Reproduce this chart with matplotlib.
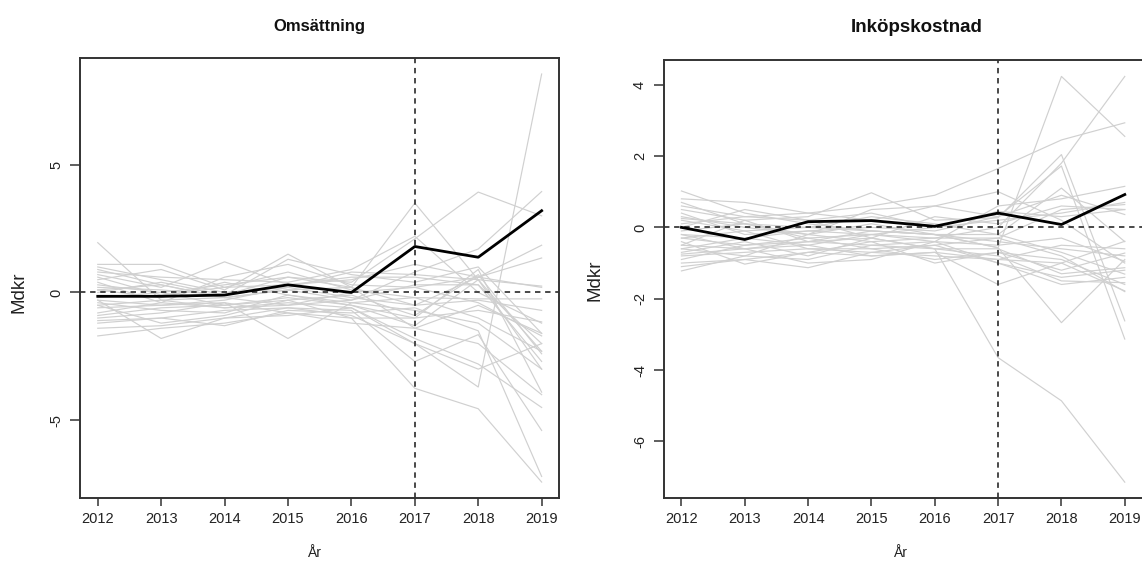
import matplotlib
matplotlib.use("Agg")
import matplotlib.pyplot as plt
import numpy as np

plt.rcParams['font.family'] = ['Liberation Sans', 'DejaVu Sans']

years = [2012, 2013, 2014, 2015, 2016, 2017, 2018, 2019]
treatment_year = 2017

# --- Omsättning (left panel) ---
oms_treated = [-0.15, -0.15, -0.1, 0.3, 0.0, 1.8, 1.38, 3.2]
oms_placebos = [
    [0.9, 0.3, -0.2, 0.1, 0.2, 3.5, 0.5, -2.3],
    [0.2, 0.1, -0.1, 0.6, 0.4, 2.1, 3.93, 3.0],
    [-0.5, -0.3, -0.6, -0.4, -0.6, -2.0, -3.7, 8.55],
    [-0.6, -0.5, -0.4, -0.8, -1.0, -3.75, -4.55, -7.42],
    [1.95, -0.3, -0.2, 0.1, -0.3, 0.8, 1.7, 3.95],
    [1.1, 1.1, 0.2, 0.3, 0.5, 1.1, 0.6, 1.85],
    [0.3, 0.0, 0.3, 0.6, 0.2, -0.5, 0.6, 1.35],
    [-0.3, -0.5, -0.3, 0.2, 0.8, 0.7, 0.5, 0.25],
    [0.1, -0.2, 0.4, -0.1, -0.4, -0.2, -0.25, -0.25],
    [-0.9, -0.6, -0.5, -0.2, -0.5, -1.0, -0.7, -1.15],
    [0.5, 0.9, 0.1, 1.5, 0.2, -1.4, -0.5, -1.6],
    [-1.2, -1.0, -0.7, -0.6, -0.9, -2.0, -3.0, -2.0],
    [-1.7, -1.4, -1.2, -0.8, -1.2, -1.4, -2.0, -4.0],
    [-0.3, -1.8, -1.0, -0.6, -0.7, -2.7, -1.65, -5.4],
    [0.7, 0.2, 1.2, 0.3, 0.6, 0.6, 0.3, -2.7],
    [-1.0, -0.8, -0.4, -1.8, -0.4, -0.7, -1.2, -3.0],
    [0.0, 0.4, -0.1, 1.3, 0.7, 0.4, 1.0, -1.6],
    [-0.5, -1.2, -0.9, -0.3, -0.1, -0.9, 0.7, -2.4],
    [0.4, -0.4, 0.6, 1.1, 0.3, 0.2, -0.4, -1.7],
    [-1.4, -1.3, -1.0, -0.9, -0.6, -1.8, -2.8, -4.5],
    [1.0, 0.5, 0.0, 0.2, -0.2, -0.5, -0.3, -0.7],
    [-0.8, -0.4, -0.6, -0.5, -0.3, 0.3, 0.3, -2.0],
    [-0.2, 0.0, -0.5, -0.3, -1.0, -1.0, 0.9, -3.9],
    [0.6, -0.1, 0.2, 0.8, 0.1, -0.2, -1.0, -2.3],
    [-1.1, -1.0, -1.3, -0.7, -0.8, -0.6, -1.5, -7.2],
    [0.1, 0.3, -0.2, -0.5, 0.0, 0.2, 0.6, 0.2],
    [-0.4, -0.7, -0.8, -0.1, -0.5, -1.3, 0.5, -3.0],
    [0.8, 0.6, 0.5, 0.4, 0.9, 2.2, 0.0, -1.2],
]
oms_yticks = [-5, 0, 5]

# --- Inköpskostnad (right panel) ---
ink_treated = [0.0, -0.34, 0.16, 0.19, 0.03, 0.40, 0.08, 0.92]
ink_placebos = [
    [0.1, 0.3, 0.4, 0.6, 0.9, 1.65, 2.45, 2.93],
    [-0.3, -0.5, -0.4, -0.3, -0.6, -3.65, -4.86, -7.14],
    [0.3, 0.0, -0.2, 0.1, -0.2, -0.57, 4.23, 2.55],
    [-0.2, -0.3, -0.1, -0.2, -0.3, 0.0, 1.8, 4.23],
    [0.5, 0.2, 0.3, 0.97, 0.2, 0.27, 2.04, -2.62],
    [0.8, 0.7, 0.4, 0.2, 0.6, 0.3, 1.72, -3.13],
    [1.02, 0.4, 0.1, -0.1, -0.2, -0.57, -2.67, -0.9],
    [-0.5, -0.6, -0.4, -0.5, -0.4, 0.6, 0.8, 1.15],
    [-0.8, -0.7, -0.6, -0.6, -0.5, -0.3, 0.5, 0.64],
    [0.6, 0.3, 0.2, 0.4, 0.0, 0.45, 0.3, 0.5],
    [-1.0, -0.9, -1.13, -0.7, -0.8, -0.9, -1.0, -1.78],
    [-1.22, -0.8, -0.9, -0.5, -0.6, -0.8, -1.5, -1.55],
    [-0.6, -0.3, -0.5, -0.8, -0.7, -1.6, -1.0, -0.39],
    [0.2, -0.1, 0.0, 0.3, 0.1, -0.2, -0.7, -1.31],
    [-0.4, -1.03, -0.7, -0.4, -1.0, -0.7, -1.2, -0.72],
    [-0.1, 0.1, -0.3, -0.2, -0.4, -0.5, -0.3, -0.95],
    [-0.7, -0.4, -0.8, -0.3, -0.6, -0.6, -1.3, -1.13],
    [0.4, -0.2, -0.1, 0.0, -0.1, 0.3, 0.9, 0.36],
    [-0.9, -0.5, -0.3, -0.6, -0.9, -0.7, -0.9, -1.6],
    [-0.2, -0.6, -1.0, -0.9, -0.4, -1.0, -1.4, -1.2],
    [0.0, 0.5, 0.2, -0.3, 0.3, 0.1, 0.6, 0.5],
    [-0.5, 0.2, -0.4, -0.1, -0.2, -0.4, -0.6, -0.8],
    [-1.1, -0.9, -0.7, -0.8, -0.7, -0.9, -0.5, -0.6],
    [0.7, 0.1, -0.2, 0.5, 0.6, 1.0, 0.2, -1.0],
    [-0.6, -0.8, -0.2, -0.4, -0.3, -0.3, -0.8, -1.8],
    [-0.3, -0.1, -0.6, -0.7, -0.5, -1.0, -1.6, -1.4],
    [0.25, 0.1, 0.0, -0.1, -0.2, -0.2, 1.1, -0.4],
    [-0.75, -0.6, -0.5, -0.2, 0.0, 0.2, 0.4, 0.7],
]
ink_yticks = [-6, -4, -2, 0, 2, 4]

titles = ["Omsättning", "Inköpskostnad"]
xlabel = "År"
ylabel = "Mdkr"

W, H = 1142, 565
fig = plt.figure(figsize=(W / 100, H / 100), dpi=100)


def px_axes(x0, x1, ytop, ybot):
    return fig.add_axes([x0 / W, (H - ybot) / H, (x1 - x0) / W, (ybot - ytop) / H])


def r_lim(vals):
    lo, hi = min(vals), max(vals)
    pad = 0.04 * (hi - lo)
    return lo - pad, hi + pad


def draw_panel(ax, treated, placebos, yticks):
    for p in placebos:
        ax.plot(years, p, color='#d0d0d0', lw=0.85, zorder=1)
    ax.plot(years, treated, color='black', lw=2.0, zorder=3)
    allv = [v for p in placebos for v in p] + list(treated)
    ax.set_ylim(*r_lim(allv))
    ax.set_xlim(*r_lim(years))
    dash = (0, (3.0, 2.6))
    ax.axhline(0, color='#3a3a3a', lw=1.3, ls=dash, zorder=2)
    ax.axvline(treatment_year, color='#3a3a3a', lw=1.3, ls=dash, zorder=2)
    ax.set_xticks(years)
    ax.set_xticklabels([str(y) for y in years], fontsize=10.5, color='#222222')
    ax.set_yticks(yticks)
    ax.set_yticklabels([str(t) for t in yticks], fontsize=10.5, rotation=90,
                       va='center', color='#222222')
    ax.tick_params(axis='x', length=6, width=1.1, pad=4, color='#333333')
    ax.tick_params(axis='y', length=7, width=1.1, pad=5, color='#333333')
    for s in ax.spines.values():
        s.set_color('#333333')
        s.set_linewidth(1.4)


ax1 = px_axes(80, 559.4, 57.7, 498.4)
draw_panel(ax1, oms_treated, oms_placebos, oms_yticks)
ax2 = px_axes(663.7, 1142.5, 60.2, 498.4)
draw_panel(ax2, ink_treated, ink_placebos, ink_yticks)

fig.text(319 / W, 1 - 26 / H, titles[0], ha='center', va='center',
         fontsize=12, fontweight='bold', color='#111111')
fig.text(917 / W, 1 - 28 / H, titles[1], ha='center', va='center',
         fontsize=13.5, fontweight='bold', color='#111111')
fig.text(315 / W, 1 - 553 / H, xlabel, ha='center', va='center', fontsize=10, color='#222222')
fig.text(901 / W, 1 - 553 / H, xlabel, ha='center', va='center', fontsize=10, color='#222222')
fig.text(19 / W, 1 - 292 / H, ylabel, ha='center', va='center', rotation=90,
         fontsize=13.5, color='#222222')
fig.text(595 / W, 1 - 280 / H, ylabel, ha='center', va='center', rotation=90,
         fontsize=13.5, color='#222222')

fig.savefig("out.png", dpi=100)
